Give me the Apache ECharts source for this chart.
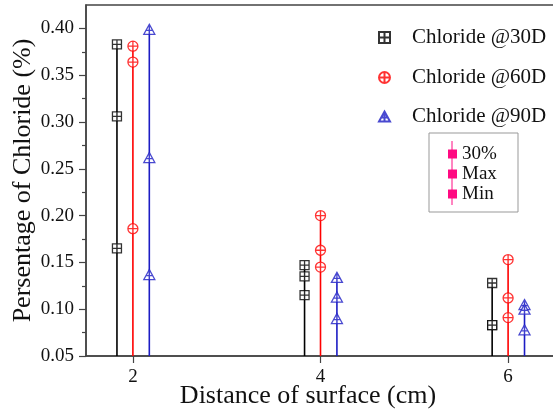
<!DOCTYPE html>
<html>
<head>
<meta charset="utf-8">
<script src="https://cdn.jsdelivr.net/npm/echarts@6/dist/echarts.min.js"></script>
<style>
  html, body { margin: 0; padding: 0; background: #fff; }
  #chart { width: 553px; height: 410px; }
</style>
</head>
<body>
<div id="chart"></div>
<script>
// distances (cm) and chloride values
var xVals = [2, 4, 6]
var d30Max = [0.383, 0.147, 0.128]
var d30Mid = [0.306, 0.135, 0.083]
var d30Min = [0.165, 0.115, 0.083]
var d60Max = [0.381, 0.200, 0.153]
var d60Mid = [0.364, 0.163, 0.112]
var d60Min = [0.186, 0.145, 0.091]
var d90Max = [0.399, 0.134, 0.105]
var d90Mid = [0.262, 0.113, 0.100]
var d90Min = [0.137, 0.090, 0.078]
var yMajor = [0.05, 0.10, 0.15, 0.20, 0.25, 0.30, 0.35, 0.40]
var yMinor = [0.075, 0.125, 0.175, 0.225, 0.275, 0.325, 0.375]

var yMin = 0.05
var yMax = 0.425
var font = '"Liberation Serif", "Times New Roman", serif'

var groups = [
  { name: 'Chloride @30D', color: '#000000', off: -0.17, max: d30Max, mid: d30Mid, min: d30Min,
    symbol: 'path://M0,0H10V10H0Z M5,0V10 M0,5H10', size: 9 },
  { name: 'Chloride @60D', color: '#ff0000', off: 0, max: d60Max, mid: d60Mid, min: d60Min,
    symbol: 'path://M0,5A5,5 0 1 1 10,5A5,5 0 1 1 0,5Z M5,0V10 M0,5H10', size: 10 },
  { name: 'Chloride @90D', color: '#1c1cc4', off: 0.175, max: d90Max, mid: d90Mid, min: d90Min,
    symbol: 'path://M5,0L10,9H0Z M5,0V9 M1.5,5.5H8.5', size: [11, 10] }
]

var series = []
groups.forEach(function (g) {
  var lineData = []
  var pts = []
  xVals.forEach(function (x, i) {
    lineData.push([x + g.off, g.max[i]])
    pts.push([x + g.off, g.max[i]])
    pts.push([x + g.off, g.mid[i]])
    pts.push([x + g.off, g.min[i]])
  })
  series.push({
    type: 'custom',
    name: g.name + ' line',
    z: 1,
    data: lineData,
    renderItem: function (params, api) {
      var p1 = api.coord([api.value(0), api.value(1)])
      var p2 = api.coord([api.value(0), yMin])
      return {
        type: 'line',
        shape: { x1: p1[0], y1: p1[1], x2: p2[0], y2: p2[1] },
        style: { stroke: g.color, lineWidth: 1.6 }
      }
    }
  })
  series.push({
    type: 'scatter',
    name: g.name,
    z: 3,
    symbol: g.symbol,
    symbolSize: g.size,
    itemStyle: { color: '#ffffff', borderColor: g.color, borderWidth: 1.3 },
    data: pts
  })
})

var legendTops = [22, 62, 101]
var legends = groups.map(function (g, i) {
  return {
    data: [g.name],
    left: 373,
    top: legendTops[i],
    itemWidth: 11,
    itemHeight: 11,
    textStyle: { fontFamily: font, fontSize: 21, color: '#111', padding: [0, 0, 0, 17] }
  }
})

// second legend box (30% / Max / Min)
var pink = '#ff0a82'
var boxItems = ['30%', 'Max', 'Min']
var graphics = [
  { type: 'rect', shape: { x: 429, y: 133, width: 89, height: 79 },
    style: { fill: '#fff', stroke: '#999', lineWidth: 1 } },
  { type: 'line', shape: { x1: 452, y1: 141, x2: 452, y2: 205 },
    style: { stroke: pink, lineWidth: 1 } }
]
boxItems.forEach(function (t, i) {
  var cy = 154 + i * 20
  graphics.push({ type: 'rect', shape: { x: 448, y: cy - 4.5, width: 9, height: 9 }, style: { fill: pink } })
  graphics.push({ type: 'text', x: 462, y: cy, style: { text: t, font: '19px ' + font, fill: '#111', verticalAlign: 'middle' } })
})

var chart = echarts.init(document.getElementById('chart'))
chart.setOption({
  animation: false,
  backgroundColor: '#fff',
  grid: { left: 86, top: 5, width: 469, height: 351, show: true, borderColor: '#444', borderWidth: 1.5,
    containLabel: false, outerBoundsMode: 'none' },
  legend: legends,
  xAxis: {
    type: 'value',
    min: 1.5,
    max: 6.5,
    name: 'Distance of surface (cm)',
    nameLocation: 'middle',
    nameGap: 27,
    nameMoveOverlap: false,
    nameTextStyle: { fontFamily: font, fontSize: 26, color: '#111', padding: [0, 25, 0, 0] },
    axisLine: { lineStyle: { color: '#444', width: 1.5 } },
    axisTick: { customValues: xVals, length: 7, lineStyle: { color: '#444', width: 1.2 } },
    axisLabel: { customValues: xVals, margin: 12, fontFamily: font, fontSize: 19, color: '#111' },
    splitLine: { show: false }
  },
  yAxis: [{
    type: 'value',
    min: yMin,
    max: yMax,
    name: 'Persentage of Chloride (%)',
    nameLocation: 'middle',
    nameGap: 50,
    nameMoveOverlap: false,
    nameTextStyle: { fontFamily: font, fontSize: 26, color: '#111' },
    axisLine: { show: true, lineStyle: { color: '#444', width: 1.5 } },
    axisTick: { customValues: yMajor, length: 7, lineStyle: { color: '#444', width: 1.2 } },
    axisLabel: { customValues: yMajor, margin: 12, fontFamily: font, fontSize: 19, color: '#111',
      formatter: function (v) { return v.toFixed(2) } },
    splitLine: { show: false }
  }, {
    type: 'value',
    min: yMin,
    max: yMax,
    position: 'left',
    axisLine: { show: false },
    axisTick: { customValues: yMinor, length: 4, lineStyle: { color: '#444', width: 1.2 } },
    axisLabel: { show: false },
    splitLine: { show: false }
  }],
  graphic: graphics,
  series: series
})
</script>
</body>
</html>
